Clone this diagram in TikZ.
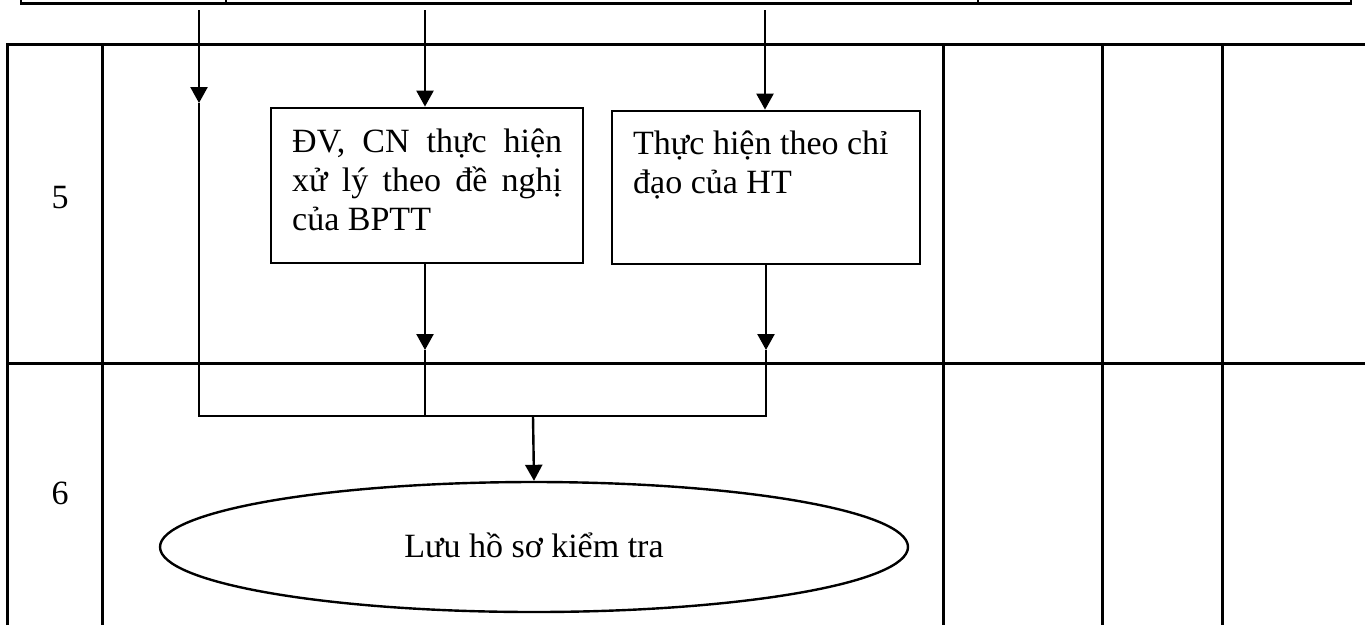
\documentclass[tikz,border=0pt]{standalone}
\usepackage{fontspec}
\setmainfont{Liberation Serif}
\usetikzlibrary{arrows.meta,shapes.geometric}
\begin{document}
\begin{tikzpicture}[x=1pt,y=-1pt,
  tab/.style={line width=3pt},
  strip/.style={line width=2.8pt},
  box/.style={draw,line width=2.8pt,inner sep=0pt},
  arr/.style={line width=2.4pt,-{Triangle[width=17pt,length=16pt]}},
  ln/.style={line width=1.8pt},
  lbl/.style={font=\fontsize{34}{39}\selectfont,inner sep=0pt}]
\useasboundingbox (0,0) rectangle (1365,625);
% top strip (previous table row)
\draw[strip] (21,0) -- (21,3.5) -- (1351,3.5) -- (1351,0);
\draw[strip] (226,0) -- (226,3.5);
\draw[strip] (978,0) -- (978,3.5);
% main table
\draw[tab] (7,625) -- (7,44) -- (1365,44);
\draw[tab] (7,363) -- (1365,363);
\foreach \cx in {102,943,1102,1222} \draw[tab] (\cx,44) -- (\cx,625);
\node[lbl,anchor=base] (n5) at (60,208) {5};
\node[lbl,anchor=base] (n6) at (60,504) {6};
% boxes
\node[box,minimum width=312pt,minimum height=155pt] (b1) at (427,185.5) {};
\node[box,minimum width=308pt,minimum height=153pt] (b2) at (766,187.5) {};
\node[lbl,anchor=base west,align=left] (t1) at (292,230)
  {\makebox[270pt][s]{ĐV, CN thực hiện}\\\makebox[270pt][s]{xử lý theo đề nghị}\\của BPTT};
\node[lbl,anchor=base west,align=left] (t2) at (633,193)
  {Thực hiện theo chỉ\\đạo của HT};
% ellipse
\node[draw,ellipse,line width=2.4pt,minimum width=748pt,minimum height=130pt,inner sep=0pt] (e) at (534,547) {};
\node[lbl,anchor=base] (et) at (534,557) {Lưu hồ sơ kiểm tra};
% connectors
\coordinate (s1) at (199,10);
\coordinate (s2) at (425,10);
\coordinate (s3) at (765,10);
\coordinate (h1) at (199,103);
\coordinate (j1) at (199,416);
\coordinate (jm) at (533,416);
\coordinate (p2) at (425,350);
\coordinate (p3) at (766,350);
\draw[arr] (s1) -- (h1);
\draw[arr] (s2) -- (s2 |- b1.north);
\draw[arr] (s3) -- (s3 |- b2.north);
\draw[arr] (b1.south -| p2) -- (p2);
\draw[arr] (b2.south -| p3) -- (p3);
\draw[ln] (h1) -- (j1) -- (p3 |- j1) -- (p3);
\draw[ln] (p2) -- (p2 |- j1);
\draw[arr] (jm) -- (e.north);
\end{tikzpicture}
\end{document}
